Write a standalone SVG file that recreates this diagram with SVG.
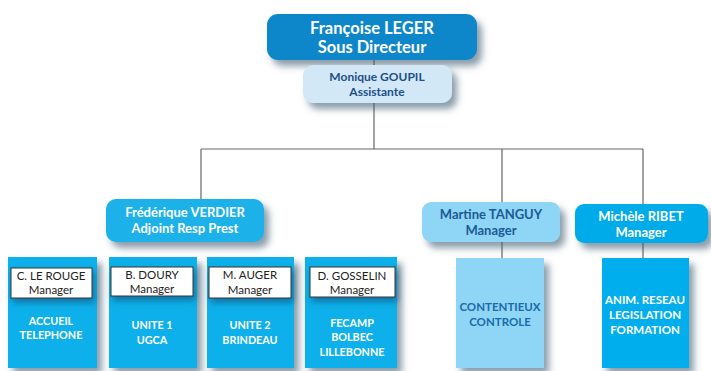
<svg xmlns="http://www.w3.org/2000/svg" width="711" height="371" viewBox="0 0 711 371">
<defs>
<filter id="sh" x="-20%" y="-30%" width="150%" height="180%">
<feDropShadow dx="5" dy="6" stdDeviation="3.5" flood-color="#3e5a70" flood-opacity="0.6"/>
</filter>
<filter id="sh2" x="-20%" y="-30%" width="150%" height="180%">
<feDropShadow dx="2" dy="4" stdDeviation="3" flood-color="#0a4a70" flood-opacity="0.6"/>
</filter>
</defs>
<style>
text{font-family:Lato,"Open Sans","Liberation Sans",sans-serif;text-anchor:middle}
.b{font-weight:bold}
.w{fill:#ffffff}
.d{fill:#1d4f88}
.lbl{fill:#ffffff;stroke:#333333;stroke-width:1}
.lt{font-size:11.5px;fill:#222222}
.bt{font-size:10.8px;font-weight:bold;fill:#ffffff}
.rt{font-size:11.5px;font-weight:bold}
.conn{stroke:#666666;stroke-width:1.2;fill:none}
</style>
<rect width="711" height="371" fill="#ffffff"/>
<g id="connectors">
<path class="conn" d="M374 60 V149 M201 149 H643 M201 149 V200 M502 149 V203 M643 149 V205 M502 242 V259 M643 243 V258"/>
</g>
<g id="leger">
<rect x="267" y="14" width="210" height="46" rx="11" fill="#0b87c9" filter="url(#sh)"/>
<text class="b w" x="372" y="34" font-size="16.5">Françoise LEGER</text>
<text class="b w" x="372" y="53" font-size="16.5">Sous Directeur</text>
</g>
<g id="goupil">
<rect x="303" y="65" width="149" height="38" rx="10" fill="#d2e8f7" filter="url(#sh)"/>
<text class="b d" x="377" y="81" font-size="12">Monique GOUPIL</text>
<text class="b d" x="377" y="96" font-size="12">Assistante</text>
</g>
<g id="verdier">
<rect x="106" y="199" width="158" height="43" rx="10" fill="#1cb1e9" filter="url(#sh)"/>
<text class="b w" x="185" y="217" font-size="13">Frédérique VERDIER</text>
<text class="b w" x="185" y="233" font-size="13">Adjoint Resp Prest</text>
</g>
<g id="tanguy">
<rect x="422" y="202" width="138" height="40" rx="9" fill="#8fd5f6" filter="url(#sh)"/>
<text class="b" x="491" y="219" font-size="13" fill="#1c5a94">Martine TANGUY</text>
<text class="b" x="491" y="235" font-size="13" fill="#1c5a94">Manager</text>
</g>
<g id="ribet">
<rect x="575" y="204" width="133" height="39" rx="9" fill="#00abe9" filter="url(#sh)"/>
<text class="b w" x="641" y="221" font-size="13">Michèle RIBET</text>
<text class="b w" x="641" y="237" font-size="13">Manager</text>
</g>
<g id="lerouge">
<rect x="8" y="257" width="89" height="111" fill="#10b0ea" filter="url(#sh)"/>
<rect class="lbl" x="11" y="268" width="81" height="30" filter="url(#sh2)"/>
<text class="lt" x="51" y="280">C. LE ROUGE</text>
<text class="lt" x="51" y="294">Manager</text>
<text class="bt" x="51" y="325">ACCUEIL</text>
<text class="bt" x="51" y="339">TELEPHONE</text>
</g>
<g id="doury">
<rect x="109" y="257" width="88" height="111" fill="#10b0ea" filter="url(#sh)"/>
<rect class="lbl" x="111" y="267" width="82" height="29" filter="url(#sh2)"/>
<text class="lt" x="152" y="279">B. DOURY</text>
<text class="lt" x="152" y="293">Manager</text>
<text class="bt" x="152" y="329">UNITE 1</text>
<text class="bt" x="152" y="344">UGCA</text>
</g>
<g id="auger">
<rect x="207" y="257" width="87" height="111" fill="#10b0ea" filter="url(#sh)"/>
<rect class="lbl" x="209" y="267" width="82" height="31" filter="url(#sh2)"/>
<text class="lt" x="250" y="279">M. AUGER</text>
<text class="lt" x="250" y="294">Manager</text>
<text class="bt" x="250" y="329">UNITE 2</text>
<text class="bt" x="250" y="344">BRINDEAU</text>
</g>
<g id="gosselin">
<rect x="305" y="257" width="92" height="111" fill="#10b0ea" filter="url(#sh)"/>
<rect class="lbl" x="310" y="267" width="85" height="30" filter="url(#sh2)"/>
<text class="lt" x="352" y="280">D. GOSSELIN</text>
<text class="lt" x="352" y="294">Manager</text>
<text class="bt" x="352" y="327">FECAMP</text>
<text class="bt" x="352" y="341">BOLBEC</text>
<text class="bt" x="352" y="356">LILLEBONNE</text>
</g>
<g id="contentieux">
<rect x="456" y="258" width="88" height="110" fill="#8fd5f6" filter="url(#sh)"/>
<text class="rt" x="500" y="311" fill="#1a6ba6">CONTENTIEUX</text>
<text class="rt" x="500" y="326" fill="#1a6ba6">CONTROLE</text>
</g>
<g id="anim">
<rect x="602" y="258" width="87" height="110" fill="#00aeee" filter="url(#sh)"/>
<text class="rt w" x="645" y="304">ANIM. RESEAU</text>
<text class="rt w" x="645" y="319">LEGISLATION</text>
<text class="rt w" x="645" y="334">FORMATION</text>
</g>
</svg>
